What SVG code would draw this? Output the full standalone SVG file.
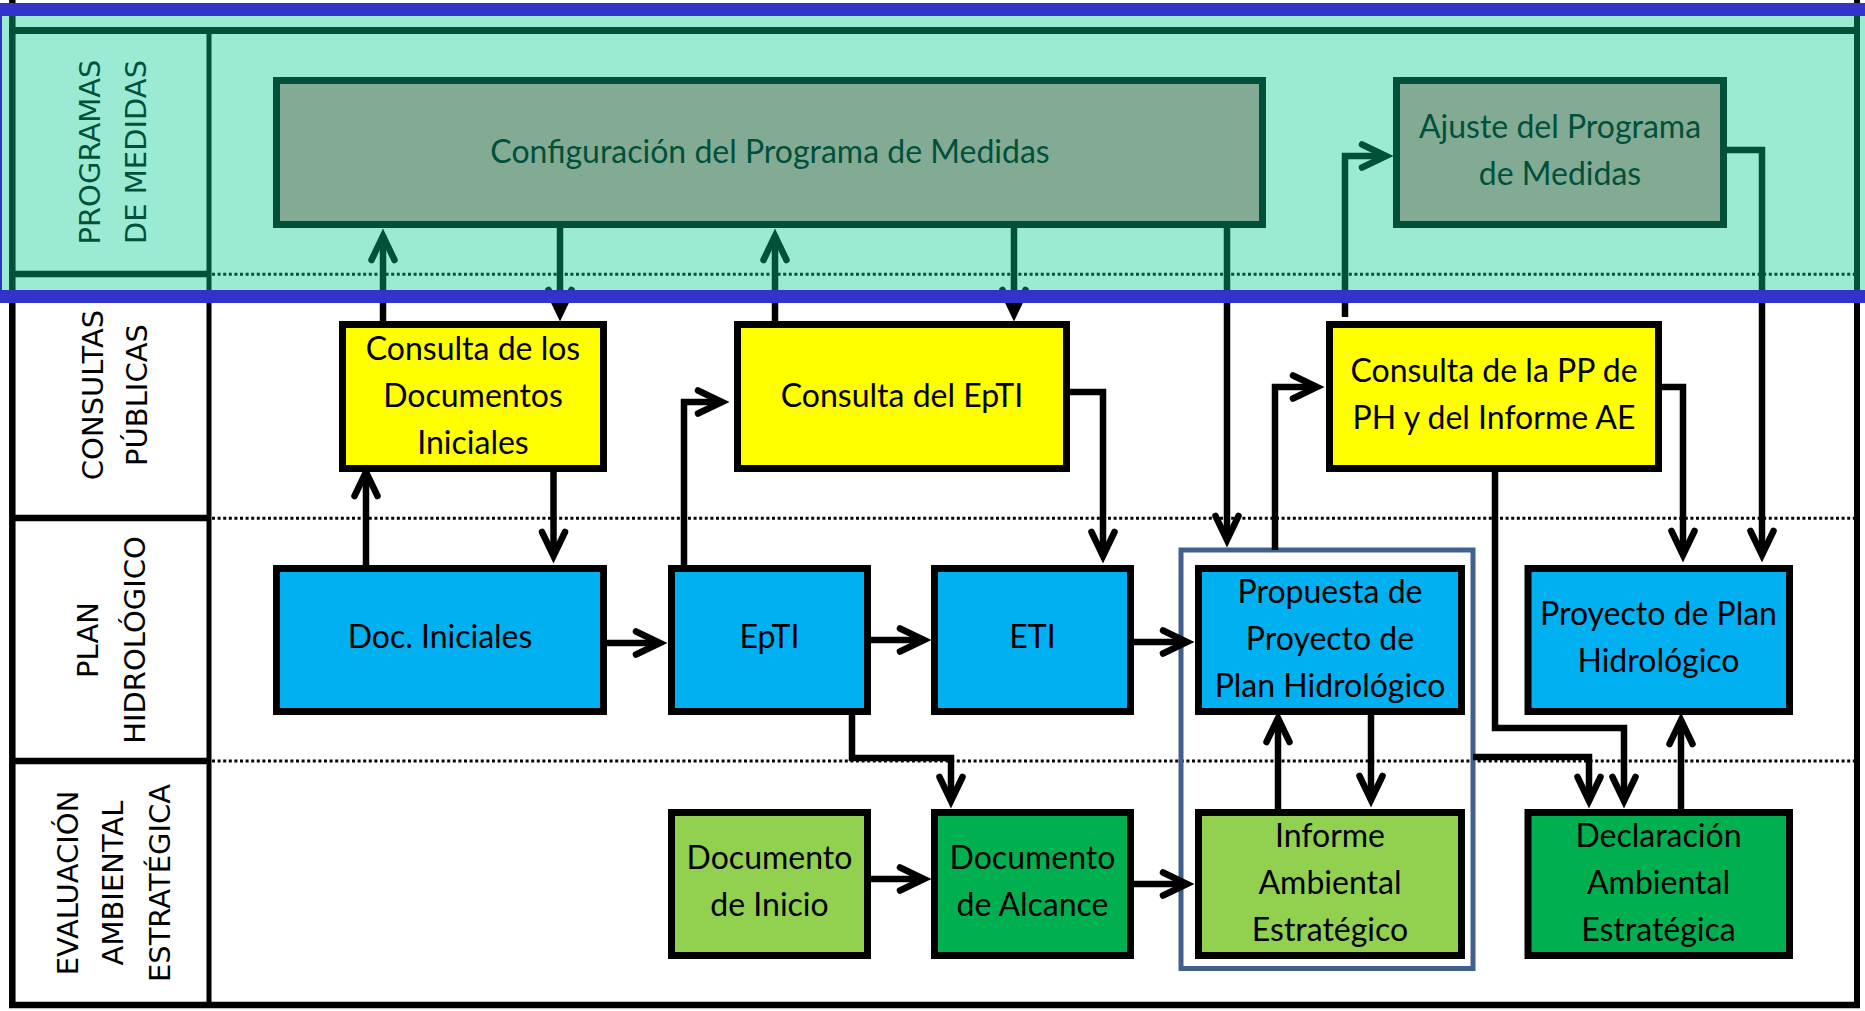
<svg xmlns="http://www.w3.org/2000/svg" width="1865" height="1011" viewBox="0 0 1865 1011">
<defs>
<style>
.frame{stroke:#000;fill:none}
.dot{stroke:#000;stroke-width:3;stroke-dasharray:3 2.6;fill:none}
.box{stroke:#000;stroke-width:7}
.cfg{fill:#D99694}
.yel{fill:#FFFF00}
.blu{fill:#00B0F0}
.lgr{fill:#92D050}
.dgr{fill:#00B050}
.t{font-family:Lato,"Liberation Sans",sans-serif;font-size:32px;fill:#000;text-anchor:middle}
.lab{font-family:"DejaVu Sans",sans-serif;font-size:29px;fill:#000;text-anchor:middle}
.c{fill:none;stroke:#000;stroke-width:6.5;stroke-linejoin:miter;marker-end:url(#ah)}
</style>
<marker id="ah" markerUnits="userSpaceOnUse" markerWidth="40" markerHeight="40" viewBox="-30 -20 40 40" refX="0" refY="0" orient="auto">
<path d="M-24,-11.5 L0,0 L-24,11.5" fill="none" stroke="#000" stroke-width="6.5" stroke-linejoin="miter" stroke-linecap="round"/>
</marker>
</defs>
<rect x="0" y="0" width="1865" height="1011" fill="#fff"/>

<g id="lanes">
<line class="frame" x1="12.3" y1="0" x2="12.3" y2="1008" stroke-width="6.5"/>
<line class="frame" x1="1857" y1="0" x2="1857" y2="1008" stroke-width="6"/>
<line class="frame" x1="9" y1="30.5" x2="1860" y2="30.5" stroke-width="7"/>
<line class="frame" x1="9" y1="1005" x2="1860" y2="1005" stroke-width="6.5"/>
<line class="frame" x1="209" y1="30" x2="209" y2="1005" stroke-width="5"/>
<line class="frame" x1="12" y1="274" x2="209" y2="274" stroke-width="6.5"/>
<line class="frame" x1="12" y1="518" x2="209" y2="518" stroke-width="6.5"/>
<line class="frame" x1="12" y1="761" x2="209" y2="761" stroke-width="6.5"/>
<line class="dot" x1="212" y1="274.3" x2="1854" y2="274.3"/>
<line class="dot" x1="212" y1="518.3" x2="1854" y2="518.3"/>
<line class="dot" x1="212" y1="761" x2="1854" y2="761"/>
<text class="lab" transform="translate(100,152) rotate(-90)">PROGRAMAS</text>
<text class="lab" transform="translate(146,152) rotate(-90)">DE MEDIDAS</text>
<text class="lab" transform="translate(103,395) rotate(-90)">CONSULTAS</text>
<text class="lab" transform="translate(147,395) rotate(-90)">PÚBLICAS</text>
<text class="lab" transform="translate(98,640) rotate(-90)">PLAN</text>
<text class="lab" transform="translate(145,640) rotate(-90)">HIDROLÓGICO</text>
<text class="lab" transform="translate(78,883) rotate(-90)">EVALUACIÓN</text>
<text class="lab" transform="translate(123,883) rotate(-90)">AMBIENTAL</text>
<text class="lab" transform="translate(170,883) rotate(-90)">ESTRATÉGICA</text>
</g>

<g id="grupo-propuesta-informe">
<rect x="1181" y="550" width="292" height="418.5" fill="none" stroke="#41618C" stroke-width="5"/>
</g>

<g id="configuracion">
<rect class="box cfg" x="276.5" y="80.5" width="986" height="144"/>
<text class="t" x="770" y="163">Configuración del Programa de Medidas</text>
</g>
<g id="ajuste">
<rect class="box cfg" x="1396.5" y="80.5" width="327" height="144"/>
<text class="t" x="1560" y="138">Ajuste del Programa</text>
<text class="t" x="1560" y="185">de Medidas</text>
</g>
<g id="consulta-documentos">
<rect class="box yel" x="342.5" y="324.5" width="261" height="144"/>
<text class="t" x="473" y="360">Consulta de los</text>
<text class="t" x="473" y="407">Documentos</text>
<text class="t" x="473" y="454">Iniciales</text>
</g>
<g id="consulta-epti">
<rect class="box yel" x="737.5" y="324.5" width="329" height="144"/>
<text class="t" x="902" y="407">Consulta del EpTI</text>
</g>
<g id="consulta-pp">
<rect class="box yel" x="1329.5" y="324.5" width="329" height="144"/>
<text class="t" x="1494" y="382">Consulta de la PP de</text>
<text class="t" x="1494" y="429">PH y del Informe AE</text>
</g>
<g id="doc-iniciales">
<rect class="box blu" x="276.5" y="568.5" width="327" height="143"/>
<text class="t" x="440" y="648">Doc. Iniciales</text>
</g>
<g id="epti">
<rect class="box blu" x="671.5" y="568.5" width="196" height="143"/>
<text class="t" x="769.5" y="648">EpTI</text>
</g>
<g id="eti">
<rect class="box blu" x="934.5" y="568.5" width="196" height="143"/>
<text class="t" x="1032.5" y="648">ETI</text>
</g>
<g id="propuesta">
<rect class="box blu" x="1198.5" y="568.5" width="263" height="143"/>
<text class="t" x="1330" y="603">Propuesta de</text>
<text class="t" x="1330" y="650">Proyecto de</text>
<text class="t" x="1330" y="697">Plan Hidrológico</text>
</g>
<g id="proyecto">
<rect class="box blu" x="1528" y="568.5" width="261.5" height="143"/>
<text class="t" x="1658.5" y="625">Proyecto de Plan</text>
<text class="t" x="1658.5" y="672">Hidrológico</text>
</g>
<g id="documento-inicio">
<rect class="box lgr" x="671.5" y="812.5" width="196" height="143"/>
<text class="t" x="769.5" y="869">Documento</text>
<text class="t" x="769.5" y="916">de Inicio</text>
</g>
<g id="documento-alcance">
<rect class="box dgr" x="934.5" y="812.5" width="196" height="143"/>
<text class="t" x="1032.5" y="869">Documento</text>
<text class="t" x="1032.5" y="916">de Alcance</text>
</g>
<g id="informe">
<rect class="box lgr" x="1198.5" y="812.5" width="263" height="143"/>
<text class="t" x="1330" y="847">Informe</text>
<text class="t" x="1330" y="894">Ambiental</text>
<text class="t" x="1330" y="941">Estratégico</text>
</g>
<g id="declaracion">
<rect class="box dgr" x="1528" y="812.5" width="261.5" height="143"/>
<text class="t" x="1658.5" y="847">Declaración</text>
<text class="t" x="1658.5" y="894">Ambiental</text>
<text class="t" x="1658.5" y="941">Estratégica</text>
</g>

<g id="connectors">
<path class="c" d="M383,321 V236"/>
<path class="c" d="M560,228 V314"/>
<path class="c" d="M775,321 V236"/>
<path class="c" d="M1014,228 V314"/>
<path class="c" d="M1227,228 V540"/>
<path class="c" d="M1275,550 V387 H1317"/>
<path class="c" d="M1345,317 V156 H1386"/>
<path class="c" d="M1727,150 H1762 V555"/>
<path class="c" d="M1662,387 H1683 V555"/>
<path class="c" d="M1495,472 V728 H1624 V801"/>
<path class="c" d="M1473,757 H1589 V801"/>
<path class="c" d="M1681,809 V720"/>
<path class="c" d="M1070,392 H1103 V556"/>
<path class="c" d="M684,565 V402 H722"/>
<path class="c" d="M366,565 V472"/>
<path class="c" d="M553.5,472 V556"/>
<path class="c" d="M607,643 H660"/>
<path class="c" d="M871,640 H924"/>
<path class="c" d="M1134,642 H1187"/>
<path class="c" d="M852,715 V758 H951 V801"/>
<path class="c" d="M871,879 H924"/>
<path class="c" d="M1134,884 H1187"/>
<path class="c" d="M1278,809 V718"/>
<path class="c" d="M1371,715 V800"/>
</g>

<g id="programas-band">
<rect x="-4.5" y="9.5" width="1885" height="287" fill="rgb(0,202,146)" fill-opacity="0.396" stroke="#3333CC" stroke-width="13"/>
</g>
</svg>
